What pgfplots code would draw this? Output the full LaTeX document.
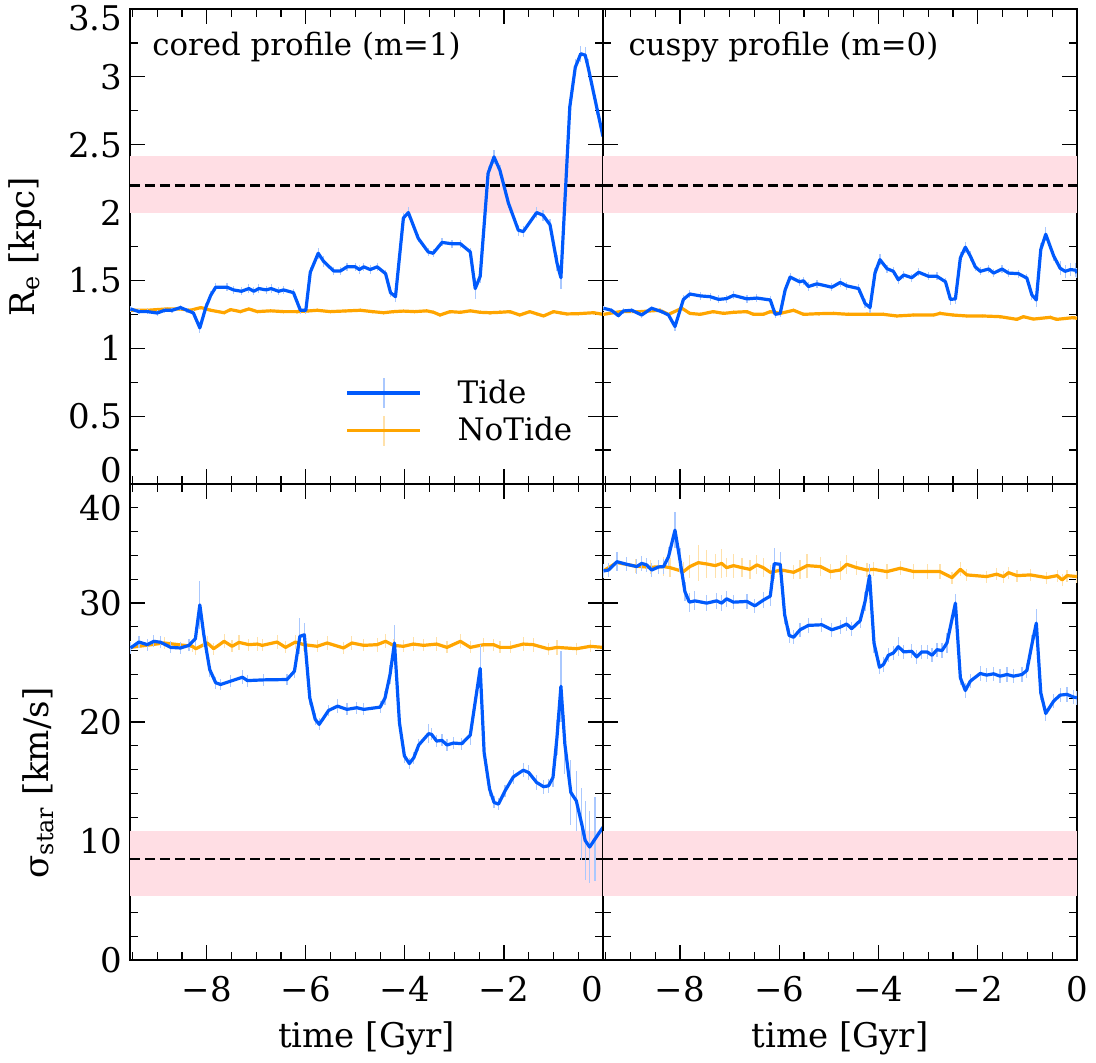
\documentclass[border=0pt]{standalone}
\usepackage{fontspec}
\setmainfont{DejaVu Serif}
\usepackage{pgfplots}
\usepackage{pgfplotstable}
\pgfplotsset{compat=1.18}
\definecolor{tideblue}{RGB}{1,90,252}
\definecolor{tideerr}{RGB}{170,200,254}
\definecolor{notideor}{RGB}{255,165,0}
\definecolor{notideerr}{RGB}{255,225,170}
\definecolor{bandpink}{RGB}{255,222,228}

% ---------------- data ----------------
\pgfplotstableread{
t y e
-9.54 1.29 0.02
-9.37 1.27 0.02
-9.20 1.27 0.02
-9.00 1.26 0.02
-8.85 1.28 0.02
-8.70 1.28 0.02
-8.53 1.30 0.02
-8.40 1.28 0.02
-8.27 1.26 0.02
-8.14 1.15 0.04
-8.02 1.30 0.03
-7.92 1.39 0.03
-7.82 1.45 0.03
-7.59 1.45 0.03
-7.46 1.43 0.03
-7.30 1.42 0.03
-7.15 1.44 0.03
-7.05 1.42 0.03
-6.95 1.44 0.03
-6.80 1.43 0.03
-6.70 1.44 0.03
-6.55 1.42 0.03
-6.45 1.43 0.03
-6.25 1.41 0.03
-6.11 1.28 0.03
-6.00 1.28 0.03
-5.91 1.56 0.04
-5.75 1.70 0.04
-5.64 1.64 0.04
-5.44 1.57 0.03
-5.30 1.57 0.03
-5.17 1.60 0.03
-5.00 1.60 0.03
-4.92 1.58 0.03
-4.83 1.60 0.03
-4.70 1.58 0.03
-4.56 1.60 0.03
-4.39 1.55 0.03
-4.29 1.41 0.03
-4.19 1.38 0.04
-4.03 1.96 0.04
-3.93 2.00 0.04
-3.73 1.81 0.03
-3.53 1.71 0.03
-3.43 1.70 0.03
-3.25 1.78 0.03
-3.05 1.77 0.03
-2.88 1.77 0.03
-2.68 1.71 0.03
-2.58 1.44 0.08
-2.48 1.53 0.05
-2.32 2.29 0.05
-2.20 2.41 0.05
-2.08 2.31 0.04
-1.91 2.07 0.04
-1.71 1.87 0.04
-1.61 1.86 0.04
-1.34 2.00 0.04
-1.21 1.98 0.04
-1.07 1.91 0.04
-0.93 1.63 0.06
-0.85 1.52 0.08
-0.67 2.78 0.06
-0.56 3.07 0.06
-0.45 3.17 0.06
-0.36 3.16 0.06
-0.30 3.07 0.06
-0.13 2.78 0.06
0.00 2.56 0.05
}\tlTide

\pgfplotstableread{
t y e
-9.54 1.28 0.015
-9.20 1.28 0.015
-8.80 1.29 0.015
-8.55 1.29 0.015
-8.33 1.28 0.015
-8.12 1.30 0.015
-7.92 1.28 0.015
-7.65 1.262 0.015
-7.52 1.285 0.015
-7.32 1.27 0.015
-7.15 1.29 0.015
-6.98 1.27 0.015
-6.71 1.276 0.015
-6.45 1.27 0.015
-6.18 1.27 0.015
-5.95 1.275 0.015
-5.77 1.28 0.015
-5.51 1.27 0.015
-5.20 1.275 0.015
-4.90 1.28 0.015
-4.65 1.27 0.015
-4.43 1.262 0.015
-4.23 1.27 0.015
-4.03 1.274 0.015
-3.80 1.27 0.015
-3.56 1.276 0.015
-3.42 1.265 0.015
-3.29 1.245 0.015
-3.09 1.27 0.015
-2.88 1.265 0.015
-2.68 1.276 0.015
-2.48 1.265 0.015
-2.28 1.262 0.015
-2.08 1.265 0.015
-1.88 1.27 0.015
-1.68 1.245 0.015
-1.48 1.27 0.015
-1.35 1.255 0.015
-1.20 1.238 0.015
-1.00 1.27 0.015
-0.85 1.26 0.015
-0.73 1.253 0.015
-0.50 1.255 0.015
-0.19 1.262 0.015
0.00 1.25 0.015
}\tlNoTide

\pgfplotstableread{
t y e
-9.54 1.295 0.02
-9.38 1.28 0.02
-9.24 1.24 0.02
-9.14 1.275 0.02
-8.97 1.28 0.02
-8.77 1.245 0.02
-8.57 1.295 0.02
-8.37 1.27 0.02
-8.23 1.245 0.02
-8.10 1.16 0.03
-7.93 1.36 0.03
-7.80 1.40 0.03
-7.59 1.386 0.03
-7.39 1.38 0.03
-7.22 1.36 0.03
-7.06 1.366 0.03
-6.92 1.39 0.03
-6.65 1.364 0.03
-6.45 1.37 0.03
-6.18 1.356 0.03
-6.08 1.25 0.03
-5.98 1.257 0.03
-5.88 1.43 0.03
-5.78 1.525 0.03
-5.59 1.49 0.03
-5.51 1.497 0.03
-5.41 1.455 0.03
-5.24 1.475 0.03
-4.94 1.45 0.03
-4.77 1.485 0.03
-4.64 1.46 0.03
-4.40 1.44 0.03
-4.27 1.33 0.03
-4.17 1.30 0.04
-4.07 1.555 0.04
-3.97 1.653 0.04
-3.83 1.587 0.03
-3.70 1.567 0.03
-3.60 1.505 0.03
-3.49 1.54 0.03
-3.33 1.52 0.03
-3.19 1.56 0.03
-2.99 1.53 0.03
-2.82 1.53 0.03
-2.65 1.49 0.03
-2.55 1.36 0.04
-2.45 1.364 0.04
-2.35 1.666 0.04
-2.25 1.745 0.04
-2.15 1.68 0.04
-2.05 1.60 0.03
-1.95 1.567 0.03
-1.78 1.584 0.03
-1.68 1.554 0.03
-1.51 1.584 0.03
-1.38 1.554 0.03
-1.18 1.55 0.03
-1.01 1.517 0.03
-0.91 1.394 0.04
-0.82 1.356 0.05
-0.73 1.728 0.05
-0.63 1.84 0.05
-0.47 1.68 0.04
-0.34 1.59 0.05
-0.24 1.567 0.05
-0.13 1.58 0.05
-0.03 1.575 0.05
0.00 1.555 0.04
}\trTide

\pgfplotstableread{
t y e
-9.54 1.25 0.015
-9.20 1.27 0.015
-8.80 1.27 0.015
-8.40 1.28 0.015
-8.23 1.25 0.015
-7.96 1.295 0.015
-7.80 1.257 0.015
-7.59 1.25 0.015
-7.33 1.27 0.015
-7.12 1.257 0.015
-6.92 1.265 0.015
-6.65 1.27 0.015
-6.52 1.25 0.015
-6.32 1.25 0.015
-6.18 1.27 0.015
-5.98 1.257 0.015
-5.71 1.28 0.015
-5.51 1.25 0.015
-5.20 1.255 0.015
-4.91 1.257 0.015
-4.60 1.25 0.015
-4.23 1.25 0.015
-3.90 1.25 0.015
-3.63 1.238 0.015
-3.30 1.245 0.015
-2.89 1.245 0.015
-2.76 1.257 0.015
-2.50 1.245 0.015
-2.22 1.238 0.015
-1.90 1.238 0.015
-1.55 1.233 0.015
-1.21 1.213 0.015
-1.08 1.233 0.015
-0.88 1.215 0.015
-0.54 1.228 0.015
-0.41 1.213 0.015
-0.07 1.226 0.015
0.00 1.22 0.015
}\trNoTide

\pgfplotstableread{
t y e
-9.54 26.22 0.5
-9.37 26.72 0.5
-9.20 26.50 0.5
-9.07 26.78 0.5
-8.93 26.70 0.5
-8.73 26.27 0.5
-8.53 26.22 0.5
-8.36 26.44 0.5
-8.23 27.00 0.6
-8.14 29.84 2.0
-8.06 27.33 1.0
-7.94 24.40 0.6
-7.82 23.30 0.5
-7.72 23.15 0.5
-7.52 23.43 0.5
-7.28 23.76 0.6
-7.18 23.48 0.5
-6.85 23.54 0.5
-6.38 23.57 0.5
-6.23 24.27 0.6
-6.12 27.20 1.5
-6.03 27.33 1.0
-5.92 22.03 0.6
-5.81 20.22 0.5
-5.73 19.80 0.5
-5.54 20.97 0.5
-5.36 21.33 0.6
-5.17 21.06 0.5
-4.97 21.20 0.5
-4.83 21.06 0.5
-4.50 21.25 0.5
-4.40 22.03 0.6
-4.30 23.98 0.8
-4.21 26.64 1.5
-4.11 19.94 0.8
-4.01 17.15 0.6
-3.91 16.51 0.5
-3.82 17.00 0.5
-3.72 18.07 0.5
-3.52 19.02 0.8
-3.46 18.96 0.5
-3.36 18.40 0.5
-3.25 18.45 0.5
-3.15 18.07 0.5
-3.02 18.23 0.5
-2.85 18.18 0.5
-2.68 18.90 0.8
-2.48 24.50 2.0
-2.40 17.43 1.0
-2.29 14.36 0.6
-2.20 13.24 0.5
-2.11 13.10 0.5
-1.98 14.20 0.5
-1.81 15.39 0.6
-1.61 15.95 0.6
-1.50 15.75 0.6
-1.34 14.92 0.6
-1.20 14.56 0.6
-1.10 14.64 0.6
-1.01 15.34 0.8
-0.93 18.69 1.5
-0.85 23.00 3.0
-0.77 18.13 2.5
-0.65 14.08 2.7
-0.54 13.38 2.5
-0.43 11.43 3.0
-0.36 10.04 3.3
-0.27 9.49 3.0
-0.16 10.18 3.5
0.00 11.16 3.2
}\blTide

\pgfplotstableread{
t y e
-9.54 26.27 0.5
-8.86 26.64 0.5
-8.29 26.36 0.5
-8.22 26.16 0.5
-7.99 26.64 0.6
-7.86 26.16 0.5
-7.65 26.78 0.6
-7.49 26.36 0.5
-7.35 26.69 0.6
-7.15 26.50 0.5
-6.98 26.55 0.6
-6.88 26.44 0.5
-6.58 26.72 0.6
-6.41 26.27 0.5
-6.21 26.72 0.6
-6.04 26.50 0.5
-5.77 26.36 0.5
-5.57 26.64 0.6
-5.24 26.22 0.5
-5.07 26.64 0.6
-4.83 26.44 0.5
-4.56 26.50 0.6
-4.39 26.78 0.6
-4.23 26.44 0.5
-4.03 26.36 0.5
-3.83 26.55 0.6
-3.62 26.44 0.5
-3.36 26.55 0.6
-3.15 26.27 0.5
-2.88 26.78 0.6
-2.68 26.27 0.5
-2.41 26.50 0.6
-2.21 26.50 0.5
-2.08 26.27 0.5
-1.87 26.27 0.5
-1.61 26.55 0.6
-1.41 26.50 0.6
-1.10 26.14 0.5
-0.93 26.27 0.6
-0.53 26.16 0.5
-0.26 26.36 0.5
0.00 26.27 0.5
}\blNoTide

\pgfplotstableread{
t y e
-9.54 32.69 0.6
-9.44 32.77 0.6
-9.27 33.47 0.8
-9.07 33.25 0.6
-8.87 33.06 0.6
-8.77 33.33 0.6
-8.67 33.20 0.6
-8.57 32.77 0.6
-8.43 33.03 0.6
-8.33 33.06 0.6
-8.23 33.89 0.8
-8.10 36.12 1.5
-8.00 33.61 1.0
-7.90 30.96 0.8
-7.81 30.07 0.8
-7.70 30.18 0.8
-7.46 29.99 0.7
-7.26 30.18 0.7
-7.16 29.99 0.7
-7.06 30.35 0.7
-6.92 30.07 0.6
-6.65 30.13 0.6
-6.49 29.76 0.6
-6.32 30.24 0.7
-6.18 30.58 0.8
-6.10 33.31 1.3
-5.98 33.25 1.0
-5.89 29.01 0.8
-5.80 27.28 0.6
-5.71 27.12 0.6
-5.58 27.75 0.6
-5.41 28.12 0.6
-5.14 28.17 0.6
-4.94 27.75 0.6
-4.77 27.98 0.6
-4.64 28.23 0.6
-4.54 27.84 0.6
-4.37 28.51 0.6
-4.27 30.13 0.8
-4.18 32.30 1.0
-4.09 26.64 0.8
-3.98 24.60 0.6
-3.90 24.83 0.6
-3.80 25.61 0.6
-3.70 25.80 0.6
-3.60 26.33 0.8
-3.49 25.89 0.6
-3.33 25.94 0.6
-3.23 25.47 0.6
-3.13 25.89 0.6
-3.02 25.89 0.6
-2.92 25.61 0.6
-2.82 26.08 0.6
-2.72 26.00 0.6
-2.62 26.64 0.8
-2.45 29.99 0.8
-2.35 23.71 0.6
-2.25 22.65 0.6
-2.15 23.43 0.6
-1.95 24.08 0.6
-1.82 23.94 0.6
-1.68 24.05 0.6
-1.55 23.85 0.6
-1.41 23.99 0.6
-1.28 23.85 0.6
-1.11 23.99 0.6
-1.01 24.33 0.6
-0.91 26.50 0.8
-0.82 28.31 1.2
-0.73 22.45 0.6
-0.63 20.72 0.6
-0.47 21.76 0.6
-0.34 22.26 0.6
-0.20 22.32 0.6
-0.07 22.09 0.6
0.00 22.04 0.6
}\brTide

\pgfplotstableread{
t y e
-9.54 32.70 0.6
-9.27 33.40 0.6
-8.90 33.10 0.6
-8.60 33.00 0.6
-8.33 33.06 0.8
-8.20 32.97 0.8
-7.93 32.64 0.8
-7.80 33.06 1.0
-7.63 33.39 1.5
-7.46 33.28 1.2
-7.29 33.14 1.0
-7.16 33.33 1.2
-7.06 32.97 0.8
-6.92 33.14 1.0
-6.75 32.97 0.8
-6.59 32.83 0.8
-6.45 33.20 0.8
-6.32 32.97 0.8
-6.18 32.58 0.6
-5.95 32.77 0.6
-5.71 32.58 0.6
-5.58 32.83 0.8
-5.44 33.14 1.0
-5.17 33.06 0.8
-4.97 32.64 0.6
-4.77 32.77 0.8
-4.64 33.25 0.8
-4.44 32.97 0.6
-4.23 32.77 0.6
-4.10 32.83 0.6
-3.83 32.64 0.6
-3.56 32.92 0.6
-3.29 32.64 0.6
-3.02 32.64 0.6
-2.76 32.64 0.6
-2.52 32.13 0.5
-2.35 32.83 0.6
-2.22 32.36 0.5
-1.82 32.22 0.5
-1.62 32.42 0.5
-1.48 32.22 0.5
-1.38 32.55 0.5
-1.21 32.30 0.5
-0.94 32.36 0.5
-0.61 32.13 0.5
-0.40 32.30 0.5
-0.30 31.94 0.5
-0.20 32.30 0.5
0.00 32.22 0.5
}\brNoTide

\newcommand{\tickfont}{\fontsize{17}{17}\selectfont}
\newcommand{\labfont}{\fontsize{17}{17}\selectfont}
\newcommand{\annfont}{\fontsize{15.4}{15.4}\selectfont}
\newcommand{\legfont}{\fontsize{15.5}{15.5}\selectfont}

\pgfplotsset{
  panel/.style={
    scale only axis,
    xmin=-9.55, xmax=0,
    tick align=inside,
    major tick length=7.5pt,
    minor tick length=4pt,
    every tick/.style={black, line width=0.6pt},
    axis line style={line width=0.8pt},
    tick label style={font=\tickfont},
    xticklabel style={yshift=-4.8pt},
    yticklabel style={xshift=-0.3pt},
    xtick={-8,-6,-4,-2,0},
    minor xtick={-9.5,-9,...,0},
    every axis x label/.style={at={(axis description cs:0.5,0)}, anchor=center, yshift=-39pt, font=\labfont},
    clip=true,
  },
  toprow/.style={panel, ymin=0, ymax=3.5, height=237.5pt,
    minor ytick={0,0.25,...,3.5}, xticklabels={}},
  botrow/.style={panel, ymin=0, ymax=40, height=238pt,
    minor ytick={0,2,...,40}},
  errs/.style={forget plot, draw=none, mark=none,
    error bars/.cd, y dir=both, y explicit, error mark=none,
    error bar style={line width=0.6pt, solid, draw=#1}},
  tidel/.style={forget plot, tideblue, line width=1.6pt, line join=round},
  notidel/.style={forget plot, notideor, line width=1.6pt, line join=round},
  band/.style={forget plot, draw=none, fill=bandpink},
  obsline/.style={forget plot, black, line width=1.2pt, dash pattern=on 5pt off 2.5pt},
}

\begin{document}
\begin{tikzpicture}
\useasboundingbox (-65pt,-51.5pt) rectangle (483pt,480pt);

% ---------- top left ----------
\begin{axis}[toprow, at={(0pt,238pt)}, anchor=south west, width=236.5pt,
  ytick={0.5,1,1.5,2,2.5,3},
  yticklabels={0.5,1,1.5,2,2.5,3},
  extra y ticks={0,3.5},
  extra y tick labels={\raisebox{0.5pt}[0pt][0pt]{0},\raisebox{-11pt}[0pt][0pt]{3.5}},
  ylabel={R\textsubscript{e} [kpc]},
  every axis y label/.style={at={(axis description cs:-0.222,0.5)}, anchor=center, rotate=90, font=\labfont},
  legend style={at={(axis description cs:0.455,0.152)}, anchor=west, draw=none, fill=none,
    inner sep=0pt, row sep=3pt, column sep=0pt,
    nodes={inner sep=0pt, anchor=west}, font=\legfont},
  legend cell align=left,
]
\addplot[band] coordinates {(-9.55,2.0) (0,2.0) (0,2.42) (-9.55,2.42)} -- cycle;
\addplot[obsline] coordinates {(-9.55,2.2) (0,2.2)};
\addplot[errs=notideerr] table[x=t, y=y, y error=e] {\tlNoTide};
\addplot[notidel] table[x=t, y=y] {\tlNoTide};
\addplot[errs=tideerr] table[x=t, y=y, y error=e] {\tlTide};
\addplot[tidel] table[x=t, y=y] {\tlTide};
\addlegendimage{legend image code/.code={
    \draw[draw=tideerr, line width=0.8pt] (18.25pt,-7.5pt) -- (18.25pt,7.5pt);
    \draw[draw=tideblue, line width=1.6pt] (0pt,0pt) -- (36.5pt,0pt);
    \path (55pt,0pt);}}
\addlegendentry{Tide}
\addlegendimage{legend image code/.code={
    \draw[draw=notideerr, line width=0.8pt] (18.25pt,-7.5pt) -- (18.25pt,7.5pt);
    \draw[draw=notideor, line width=1.6pt] (0pt,0pt) -- (36.5pt,0pt);
    \path (55pt,0pt);}}
\addlegendentry{NoTide}
\node[anchor=north west, inner sep=0pt, font=\annfont]
  at (axis description cs:0.0465,0.952) {cored profile (m=1)};
\end{axis}

% ---------- top right ----------
\begin{axis}[toprow, at={(236.5pt,238pt)}, anchor=south west, width=237pt,
  ytick={0,0.5,...,3.5}, yticklabels={}]
\addplot[band] coordinates {(-9.55,2.0) (0,2.0) (0,2.42) (-9.55,2.42)} -- cycle;
\addplot[obsline] coordinates {(-9.55,2.2) (0,2.2)};
\addplot[errs=notideerr] table[x=t, y=y, y error=e] {\trNoTide};
\addplot[notidel] table[x=t, y=y] {\trNoTide};
\addplot[errs=tideerr] table[x=t, y=y, y error=e] {\trTide};
\addplot[tidel] table[x=t, y=y] {\trTide};
\node[anchor=north west, inner sep=0pt, font=\annfont]
  at (axis description cs:0.053,0.952) {cuspy profile (m=0)};
\end{axis}

% ---------- bottom left ----------
\begin{axis}[botrow, at={(0pt,0pt)}, anchor=south west, width=236.5pt,
  ytick={0,10,20,30}, yticklabels={0,10,20,30},
  extra y ticks={40},
  extra y tick labels={\raisebox{-18pt}[0pt][0pt]{40}},
  xtick={-8,-6,-4,-2},
  xticklabels={−8,−6,−4,−2},
  extra x ticks={0}, extra x tick labels={0},
  extra x tick style={xticklabel style={xshift=-5.5pt}},
  xlabel={time [Gyr]},
  ylabel={σ\textsubscript{star} [km/s]},
  every axis y label/.style={at={(axis description cs:-0.1945,0.372)}, anchor=center, rotate=90, font=\labfont},
]
\addplot[band] coordinates {(-9.55,5.4) (0,5.4) (0,10.8) (-9.55,10.8)} -- cycle;
\addplot[obsline] coordinates {(-9.55,8.5) (0,8.5)};
\addplot[errs=notideerr] table[x=t, y=y, y error=e] {\blNoTide};
\addplot[notidel] table[x=t, y=y] {\blNoTide};
\addplot[errs=tideerr] table[x=t, y=y, y error=e] {\blTide};
\addplot[tidel] table[x=t, y=y] {\blTide};
\end{axis}

% ---------- bottom right ----------
\begin{axis}[botrow, at={(236.5pt,0pt)}, anchor=south west, width=237pt,
  ytick={0,10,20,30,40}, yticklabels={},
  xticklabels={−8,−6,−4,−2,0},
  xlabel={time [Gyr]},
]
\addplot[band] coordinates {(-9.55,5.4) (0,5.4) (0,10.8) (-9.55,10.8)} -- cycle;
\addplot[obsline] coordinates {(-9.55,8.5) (0,8.5)};
\addplot[errs=notideerr] table[x=t, y=y, y error=e] {\brNoTide};
\addplot[notidel] table[x=t, y=y] {\brNoTide};
\addplot[errs=tideerr] table[x=t, y=y, y error=e] {\brTide};
\addplot[tidel] table[x=t, y=y] {\brTide};
\end{axis}
\end{tikzpicture}
\end{document}
